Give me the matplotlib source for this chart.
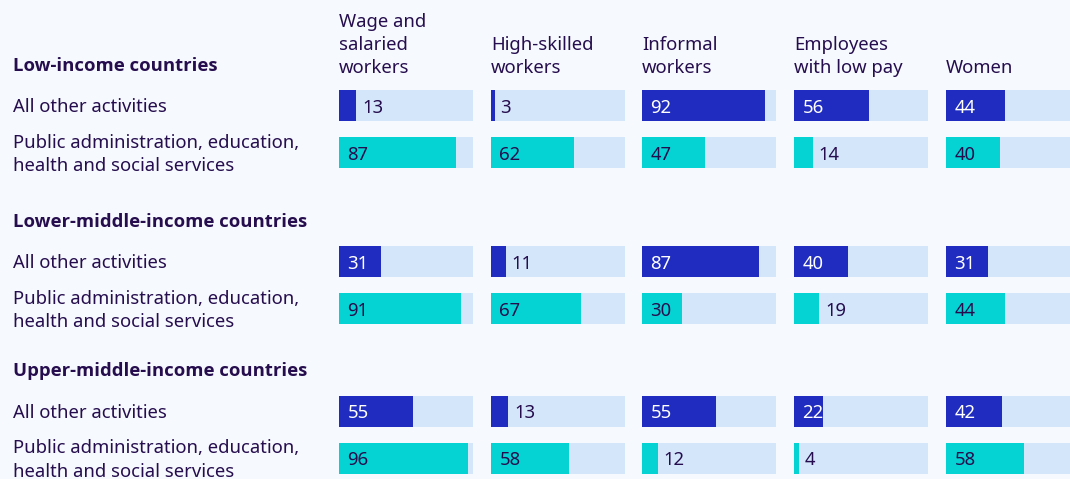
import matplotlib.pyplot as plt

categories = [
    "Wage and\nsalaried\nworkers",
    "High-skilled\nworkers",
    "Informal\nworkers",
    "Employees\nwith low pay",
    "Women",
]
groups = [
    "Low-income countries",
    "Lower-middle-income countries",
    "Upper-middle-income countries",
]
row_labels = [
    "All other activities",
    "Public administration, education,\nhealth and social services",
]
other_activities = [
    [13, 3, 92, 56, 44],
    [31, 11, 87, 40, 31],
    [55, 13, 55, 22, 42],
]
public_services = [
    [87, 62, 47, 14, 40],
    [91, 67, 30, 19, 44],
    [96, 58, 12, 4, 58],
]

W, H = 1070, 479
bg = "#f6f9fe"
track = "#d3e6fa"
dark_blue = "#1f2cbf"
teal = "#05d3d3"
txt = "#260e4e"
fs = 13.3

plt.rcParams["font.family"] = ["Noto Sans", "DejaVu Sans"]

fig = plt.figure(figsize=(W / 100, H / 100), dpi=100, facecolor=bg)

# layout in pixels
col_left = [339, 491, 642, 794, 946]
col_width = 134
group_top = [90, 246, 395.5]
bar_h = 31


def fy(y):
    return 1 - y / H


# group headers and row labels (text sits ~2px lower than bbox centre)
for g, name in enumerate(groups):
    top = group_top[g]
    fig.text(13 / W, fy(top - 24), name, fontsize=fs, fontweight="bold",
             family=["Open Sans", "DejaVu Sans"],
             color=txt, va="center", ha="left")
    for r, lab in enumerate(row_labels):
        yc = top + bar_h / 2 + r * 47
        fig.text(13 / W, fy(yc + 2), lab, fontsize=fs, color=txt,
                 va="center", ha="left", linespacing=1.38)

for j, cat in enumerate(categories):
    fig.text(col_left[j] / W, fy(77), cat, fontsize=fs, color=txt,
             va="bottom", ha="left", linespacing=1.36)

    ax = fig.add_axes([col_left[j] / W, 0, col_width / W, 1])
    ax.set_xlim(0, 100)
    ax.set_ylim(H, 0)
    ax.axis("off")

    for g in range(len(groups)):
        top = group_top[g]
        for r, (vals, col) in enumerate([(other_activities, dark_blue),
                                         (public_services, teal)]):
            yc = top + bar_h / 2 + r * 47
            v = vals[g][j]
            ax.barh(yc, 100, height=bar_h, color=track, linewidth=0)
            ax.barh(yc, v, height=bar_h, color=col, linewidth=0)
            if v >= 20:
                tc = "white" if col == dark_blue else txt
                ax.annotate(str(v), (0, yc), xytext=(6, -1.5),
                            textcoords="offset points", va="center",
                            ha="left", fontsize=fs, color=tc)
            else:
                ax.annotate(str(v), (v, yc), xytext=(4, -1.5),
                            textcoords="offset points", va="center",
                            ha="left", fontsize=fs, color=txt)

fig.savefig("out.png", dpi=100, facecolor=bg)
